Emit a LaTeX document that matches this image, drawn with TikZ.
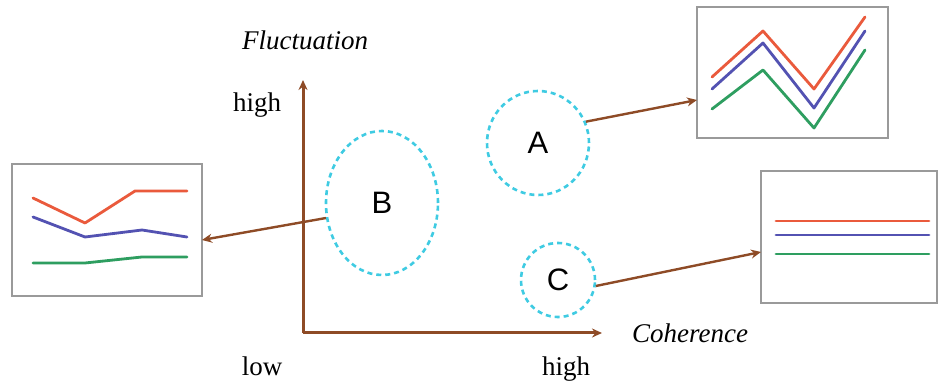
\documentclass[tikz,border=0pt]{standalone}
\usepackage{fontspec}
\setmainfont{Liberation Serif}
\newfontfamily\labfont{Liberation Sans}
\usetikzlibrary{shapes.geometric,arrows.meta,calc}
\definecolor{axisbrown}{HTML}{8E4B26}
\definecolor{clustcyan}{HTML}{3FCBE2}
\definecolor{lred}{HTML}{EA5A3C}
\definecolor{lblue}{HTML}{5352B2}
\definecolor{lgreen}{HTML}{2E9E60}
\definecolor{boxgray}{HTML}{9A9A9A}
\begin{document}
\begin{tikzpicture}[x=1pt,y=-1pt,
  axis/.style={draw=axisbrown,line width=3pt,-{Stealth[length=10pt,width=9pt]}},
  link/.style={draw=axisbrown,line width=2.4pt,-{Stealth[length=10pt,width=9pt]}},
  cluster/.style={ellipse,draw=clustcyan,dashed,dash pattern=on 5pt off 4pt,line width=2.6pt,inner sep=0pt,font=\labfont\fontsize{31}{34}\selectfont},
  panel/.style={draw=boxgray,line width=2pt,fill=white,inner sep=0pt,outer sep=0pt},
  series/.style={line width=2.8pt,line join=round,line cap=round},
  words/.style={font=\fontsize{27}{30}\selectfont,inner sep=0pt},
  axtitle/.style={font=\itshape\fontsize{27}{30}\selectfont,inner sep=0pt}]
\useasboundingbox (0,0) rectangle (938,382);
% axes
\coordinate (O) at (303,333);
\coordinate (Ytop) at (303,80);
\coordinate (Xend) at (602,333);
\draw[axis] (O) -- (Ytop);
\draw[axis] (O) -- (Xend);
\node[axtitle,anchor=base] (fl) at (305,50) {Fluctuation};
\node[axtitle,anchor=base] (co) at (690,343) {Coherence};
\node[words,anchor=base] (yh) at (257,112) {high};
\node[words,anchor=base] (xl) at (262,376) {low};
\node[words,anchor=base] (xh) at (566,376) {high};
% clusters
\node[cluster,minimum width=112pt,minimum height=144pt] (B) at (382,203) {B};
\node[cluster,minimum width=102pt,minimum height=104pt] (A) at (538,143) {A};
\node[cluster,minimum width=74pt,minimum height=74pt] (C) at (558,280) {C};
% panels
\node[panel,minimum width=190pt,minimum height=132pt] (PL) at (107,230) {};
\node[panel,minimum width=191pt,minimum height=131pt] (PA) at (792.5,72.5) {};
\node[panel,minimum width=176pt,minimum height=132pt] (PC) at (849,237) {};
% left panel series
\draw[series,lred] (33,198) -- (85,223) -- (135,191) -- (187,191);
\draw[series,lblue] (33,217) -- (85,237) -- (142,230) -- (187,237);
\draw[series,lgreen] (33,263) -- (85,263) -- (142,257) -- (187,257);
% top right panel series
\draw[series,lred] (712,77) -- (763,31) -- (814,89) -- (865,17);
\draw[series,lblue] (712,89) -- (763,43) -- (814,108) -- (865,31);
\draw[series,lgreen] (712,109) -- (763,70) -- (814,128) -- (865,50);
% right panel series
\draw[series,lred] (776,221) -- (929,221);
\draw[series,lblue] (776,235) -- (929,235);
\draw[series,lgreen] (776,254) -- (929,254);
% links
\draw[link] (A.24) -- ([yshift=-27.5pt]PA.west);
\draw[link] (B.195) -- ([yshift=-10pt]PL.east);
\draw[link] (C.351) -- ([yshift=-15pt]PC.west);
\end{tikzpicture}
\end{document}
